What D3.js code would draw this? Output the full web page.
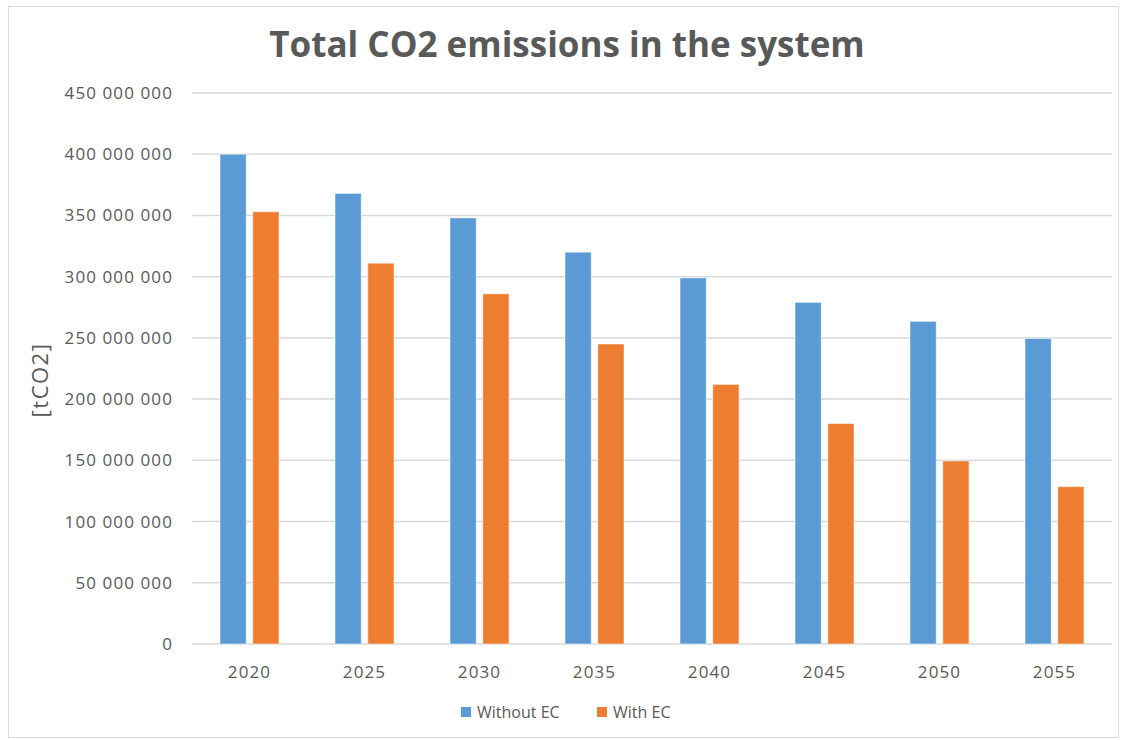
<!DOCTYPE html>
<html>
<head>
<meta charset="UTF-8">
<script src="https://d3js.org/d3.v7.min.js"></script>
<style>
    body { margin: 0; background: #fff; }
    text { font-family: 'Open Sans', 'Liberation Sans', sans-serif; fill: #595959; }
    .title { font-size: 35px; font-weight: bold; }
    .tick-label { font-size: 17px; letter-spacing: 1.1px; }
    .axis-title { font-size: 22px; letter-spacing: 1.5px; }
    .legend-label { font-size: 16px; }
</style>
</head>
<body>
<svg id="chart" width="1126" height="740"></svg>
<script>
// chart data
var years = ["2020", "2025", "2030", "2035", "2040", "2045", "2050", "2055"];
var withoutEC = [400000000, 368000000, 348000000, 320000000, 299000000, 279000000, 263500000, 249500000];
var withEC = [353000000, 311000000, 286000000, 245000000, 212000000, 180000000, 149500000, 128500000];
var seriesNames = ["Without EC", "With EC"];
var colors = ["#5b9bd5", "#ed7d31"];
var yTicks = [0, 50000000, 100000000, 150000000, 200000000, 250000000, 300000000, 350000000, 400000000, 450000000];

var svg = d3.select("#chart");

var plotLeft = 192, plotRight = 1112, plotTop = 93, plotBottom = 644;

var x = d3.scaleBand().domain(years).range([plotLeft, plotRight]);
var inner = d3.scaleBand().domain(seriesNames).range([x.bandwidth() / 2 - 29.5, x.bandwidth() / 2 + 29.5]).paddingInner(0.2);
var y = d3.scaleLinear().domain([0, 450000000]).range([plotBottom, plotTop]);

var fmt = d3.formatLocale({ decimal: ".", thousands: " ", grouping: [3], currency: ["", ""] }).format(",d");

// outer frame
svg.append("rect")
    .attr("x", 8.5).attr("y", 6.5)
    .attr("width", 1110).attr("height", 731)
    .attr("fill", "none").attr("stroke", "#d9d9d9");

// gridlines
svg.append("g").selectAll("line")
    .data(yTicks)
    .enter()
    .append("line")
    .attr("x1", plotLeft).attr("x2", plotRight)
    .attr("y1", function (d) { return y(d); })
    .attr("y2", function (d) { return y(d); })
    .attr("stroke", "#d9d9d9")
    .attr("stroke-width", 1.5);

// y tick labels
svg.append("g").selectAll("text")
    .data(yTicks)
    .enter()
    .append("text")
    .attr("class", "tick-label")
    .attr("x", 173)
    .attr("y", function (d) { return y(d); })
    .attr("dy", "0.35em")
    .attr("text-anchor", "end")
    .text(function (d) { return fmt(d); });

// bars
var series = [withoutEC, withEC];
series.forEach(function (vals, s) {
    svg.append("g").selectAll("rect")
        .data(vals)
        .enter()
        .append("rect")
        .attr("x", function (d, i) { return x(years[i]) + inner(seriesNames[s]); })
        .attr("y", function (d) { return y(d); })
        .attr("width", inner.bandwidth())
        .attr("height", function (d) { return plotBottom - y(d); })
        .attr("fill", colors[s])
        .attr("stroke", "#ffffff")
        .attr("stroke-opacity", 0.5)
        .attr("stroke-width", 1);
});

// x labels
svg.append("g").selectAll("text")
    .data(years)
    .enter()
    .append("text")
    .attr("class", "tick-label")
    .attr("x", function (d) { return x(d) + x.bandwidth() / 2; })
    .attr("y", 672)
    .attr("dy", "0.35em")
    .attr("text-anchor", "middle")
    .text(function (d) { return d; });

// title
svg.append("text")
    .attr("class", "title")
    .attr("x", 567)
    .attr("y", 57)
    .attr("text-anchor", "middle")
    .text("Total CO2 emissions in the system");

// y axis title
svg.append("text")
    .attr("class", "axis-title")
    .attr("transform", "translate(40,380) rotate(-90)")
    .attr("text-anchor", "middle")
    .attr("dy", "0.35em")
    .text("[tCO2]");

// legend
var legendX = [461, 597];
seriesNames.forEach(function (name, i) {
    svg.append("rect")
        .attr("x", legendX[i]).attr("y", 707)
        .attr("width", 10).attr("height", 10)
        .attr("fill", colors[i]);
    svg.append("text")
        .attr("class", "legend-label")
        .attr("x", legendX[i] + 16)
        .attr("y", 712)
        .attr("dy", "0.35em")
        .text(name);
});
</script>
</body>
</html>
